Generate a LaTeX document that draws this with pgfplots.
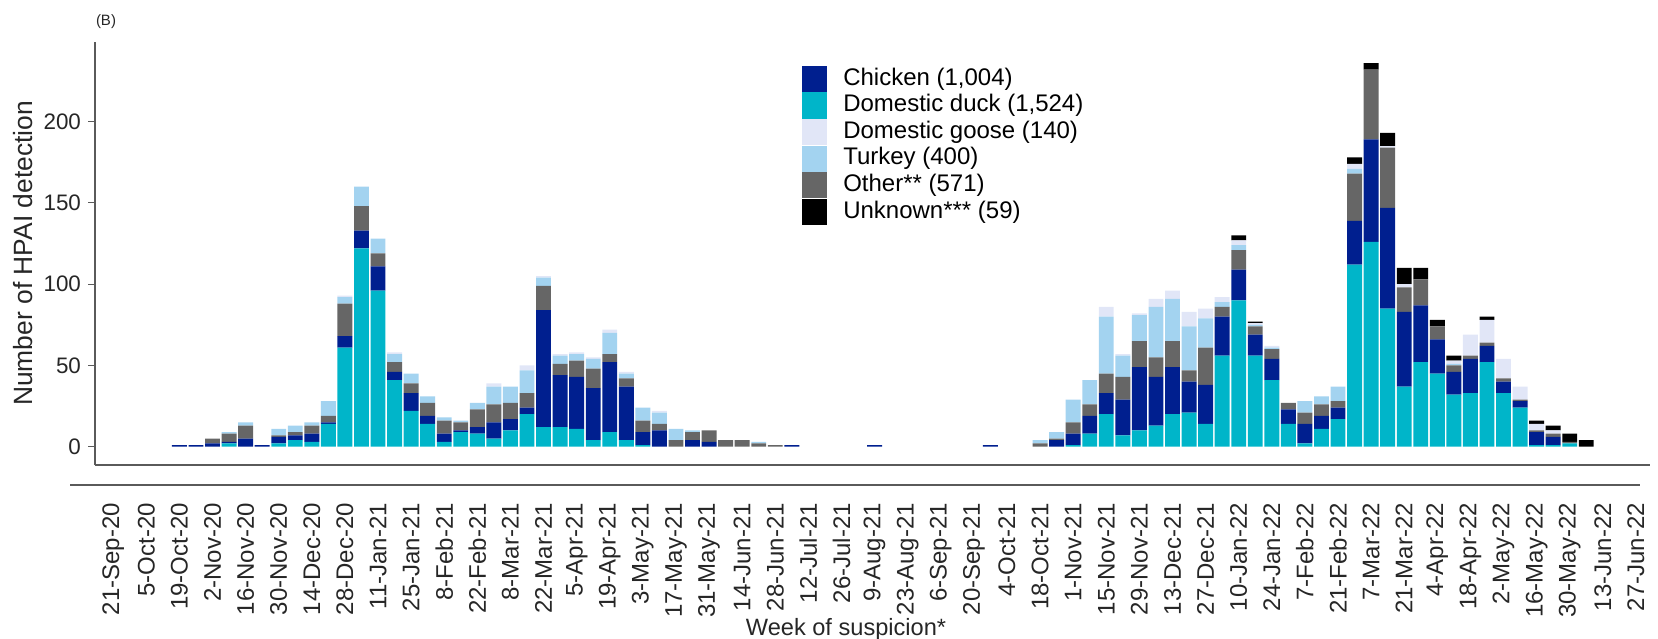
\documentclass[border=0pt]{standalone}
\usepackage{pgfplots}
\pgfplotsset{compat=1.18}
\usepackage{pgfplotstable}
\usepackage{fontspec}
\setmainfont{Liberation Sans}
\definecolor{cChick}{HTML}{001F8F}
\definecolor{cDuck}{HTML}{00B5C9}
\definecolor{cGoose}{HTML}{E1E6F7}
\definecolor{cTurkey}{HTML}{A3D3F0}
\definecolor{cOther}{HTML}{666666}
\definecolor{cUnk}{HTML}{000000}
\definecolor{axgray}{HTML}{5A5A5A}

\pgfplotstableread{
week duck chicken other turkey goose unknown
4 0 1 0 0 0 0
5 0 1 0 0 0 0
6 0 2 3 0 0 0
7 2 1 5 1 0 0
8 0 5 8 2 0 0
9 0 1 0 0 0 0
10 2 4 1 4 0 0
11 4 3 2 4 0 0
12 3 5 5 2 0 0
13 14 1 4 9 0 0
14 61 7 20 4 1 0
15 122 11 15 12 0 0
16 96 15 8 9 0 0
17 41 5 6 5 1 0
18 22 11 6 6 0 0
19 14 5 8 4 0 0
20 3 5 8 2 0 0
21 9 1 5 1 0 0
22 8 4 11 4 0 0
23 5 10 11 11 2 0
24 10 7 10 10 0 0
25 20 4 9 14 3 0
26 12 72 15 5 1 0
27 12 32 7 5 1 0
28 11 32 10 4 1 0
29 4 32 12 6 1 0
30 9 43 5 13 2 0
31 4 33 5 3 1 0
32 1 8 7 8 0 0
33 0 10 4 7 1 0
34 0 0 4 7 0 0
35 0 4 5 1 0 0
36 0 3 7 0 0 0
37 0 0 4 0 0 0
38 0 0 4 0 0 0
39 0 0 2 1 0 0
40 0 0 1 0 0 0
41 0 1 0 0 0 0
46 0 1 0 0 0 0
53 0 1 0 0 0 0
56 0 0 2 2 0 0
57 0 4 1 4 0 0
58 1 7 7 14 0 0
59 8 11 7 15 0 0
60 20 13 12 35 6 0
61 7 22 14 13 1 0
62 10 39 16 16 1 0
63 13 30 12 31 5 0
64 20 29 16 26 5 0
65 21 19 7 27 9 0
66 14 24 23 18 6 0
67 56 24 6 3 3 0
68 90 19 12 3 3 3
69 56 13 5 1 1 1
70 41 13 6 1 1 0
71 14 9 4 0 0 0
72 2 12 7 7 0 0
73 11 8 7 5 0 0
74 17 7 4 9 0 0
75 112 27 29 3 3 4
76 126 63 43 0 0 4
77 85 62 37 0 1 8
78 37 46 15 0 2 10
79 52 35 16 0 0 7
80 45 21 8 0 0 4
81 32 14 4 1 2 3
82 33 21 2 0 13 0
83 52 10 2 0 14 2
84 33 7 2 0 12 0
85 24 4 1 0 8 0
86 1 8 1 0 4 2
87 1 5 2 0 2 3
88 2 0 1 0 0 5
89 0 0 0 0 0 4
}\datatable

\begin{document}
\begin{tikzpicture}
\useasboundingbox (0,0) rectangle (829pt,319pt);
\begin{axis}[
  at={(47.5pt,86.5pt)}, anchor=south west,
  width=777.5pt, height=211.5pt, scale only axis,
  xmin=-1.1, xmax=92.85, ymin=-11.3, ymax=249,
  axis x line=bottom, axis y line=left,
  axis line style={-, axgray, line width=0.8pt},
  ybar stacked, bar width=0.9,
  /pgf/number format/assume math mode=true,
  tick label style={text=black!85},
  yticklabel style={font=\fontsize{11.2}{13}\selectfont},
  ytick={0,50,100,150,200},
  tick align=outside,
  major tick length=3.5pt,
  ytick style={axgray, line width=0.6pt},
  xtick={0,2,...,92},
  xtick style={draw=none},
  xticklabels={21-Sep-20,5-Oct-20,19-Oct-20,2-Nov-20,16-Nov-20,30-Nov-20,14-Dec-20,28-Dec-20,11-Jan-21,25-Jan-21,8-Feb-21,22-Feb-21,8-Mar-21,22-Mar-21,5-Apr-21,19-Apr-21,3-May-21,17-May-21,31-May-21,14-Jun-21,28-Jun-21,12-Jul-21,26-Jul-21,9-Aug-21,23-Aug-21,6-Sep-21,20-Sep-21,4-Oct-21,18-Oct-21,1-Nov-21,15-Nov-21,29-Nov-21,13-Dec-21,27-Dec-21,10-Jan-22,24-Jan-22,7-Feb-22,21-Feb-22,7-Mar-22,21-Mar-22,4-Apr-22,18-Apr-22,2-May-22,16-May-22,30-May-22,13-Jun-22,27-Jun-22},
  xticklabel style={rotate=90, anchor=east, font=\fontsize{12}{14}\selectfont},
  xticklabel shift=12pt,
  ylabel={Number of HPAI detection},
  ylabel shift=-1.5pt,
  ylabel style={font=\fontsize{13.2}{15}\selectfont, text=black!85},
  xlabel={Week of suspicion*},
  every axis x label/.style={at={(axis description cs:0.483,-0.389)}, anchor=center, font=\fontsize{11.8}{13}\selectfont, text=black!85},
  legend cell align=left,
  legend style={at={(0.4547,0.9456)}, anchor=north west, draw=none, fill=none,
    font=\fontsize{12}{14}\selectfont, row sep=0pt, inner sep=0pt,
    nodes={inner sep=1pt, text height=8.8pt, text depth=2.5pt},
    /tikz/every odd column/.style={column sep=7pt}},
]
\addlegendimage{legend image code/.code={\fill[cChick] (0pt,-6.3pt) rectangle (12pt,6.3pt);}}
\addlegendentry{Chicken (1,004)}
\addlegendimage{legend image code/.code={\fill[cDuck] (0pt,-6.3pt) rectangle (12pt,6.3pt);}}
\addlegendentry{Domestic duck (1,524)}
\addlegendimage{legend image code/.code={\fill[cGoose] (0pt,-6.3pt) rectangle (12pt,6.3pt);}}
\addlegendentry{Domestic goose (140)}
\addlegendimage{legend image code/.code={\fill[cTurkey] (0pt,-6.3pt) rectangle (12pt,6.3pt);}}
\addlegendentry{Turkey (400)}
\addlegendimage{legend image code/.code={\fill[cOther] (0pt,-6.3pt) rectangle (12pt,6.3pt);}}
\addlegendentry{Other** (571)}
\addlegendimage{legend image code/.code={\fill[cUnk] (0pt,-6.3pt) rectangle (12pt,6.3pt);}}
\addlegendentry{Unknown*** (59)}

\addplot[forget plot, fill=cDuck, draw=none] table[x=week,y=duck]{\datatable};
\addplot[forget plot, fill=cChick, draw=none] table[x=week,y=chicken]{\datatable};
\addplot[forget plot, fill=cOther, draw=none] table[x=week,y=other]{\datatable};
\addplot[forget plot, fill=cTurkey, draw=none] table[x=week,y=turkey]{\datatable};
\addplot[forget plot, fill=cGoose, draw=none] table[x=week,y=goose]{\datatable};
\addplot[forget plot, fill=cUnk, draw=none] table[x=week,y=unknown]{\datatable};
\end{axis}
\draw[axgray, line width=0.8pt] (35pt,76.5pt) -- (820pt,76.5pt);
\node[font=\fontsize{7.5}{9}\selectfont, text=black!85] at (53pt,308pt) {(B)};
\end{tikzpicture}
\end{document}
